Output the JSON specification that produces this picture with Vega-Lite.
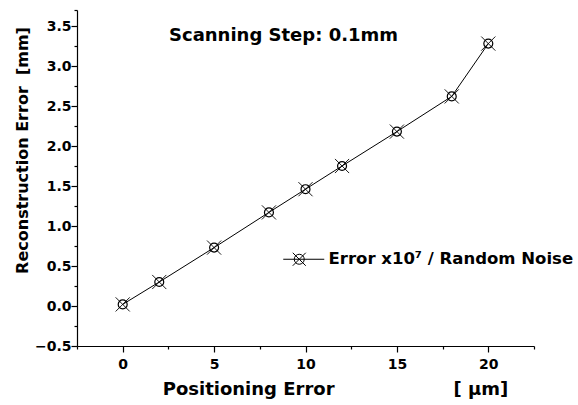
{
  "$schema": "https://vega.github.io/schema/vega-lite/v6.json",
  "autosize": "none",
  "width": 457,
  "height": 336,
  "padding": {"left": 77, "top": 10, "right": 44, "bottom": 59},
  "background": "white",
  "config": {
    "view": {"stroke": null},
    "font": "DejaVu Sans",
    "axis": {"grid": false, "domainColor": "black", "tickColor": "black", "labelColor": "black", "titleColor": "black", "labelFont": "DejaVu Sans", "titleFont": "DejaVu Sans", "labelFontWeight": "bold", "titleFontWeight": "bold", "labelFontSize": 14, "titleFontSize": 16, "domainWidth": 1.2, "tickWidth": 1.2}
  },
  "title": {"text": "Scanning Step: 0.1mm", "anchor": "start", "dx": 155, "offset": -45, "baseline": "middle", "font": "DejaVu Sans", "fontSize": 18, "fontWeight": "bold", "color": "black"},
  "data": {"values": [
    {"x": 0, "y": 0.02, "series": "Error x10⁷ / Random Noise"},
    {"x": 2, "y": 0.30, "series": "Error x10⁷ / Random Noise"},
    {"x": 5, "y": 0.73, "series": "Error x10⁷ / Random Noise"},
    {"x": 8, "y": 1.17, "series": "Error x10⁷ / Random Noise"},
    {"x": 10, "y": 1.46, "series": "Error x10⁷ / Random Noise"},
    {"x": 12, "y": 1.75, "series": "Error x10⁷ / Random Noise"},
    {"x": 15, "y": 2.18, "series": "Error x10⁷ / Random Noise"},
    {"x": 18, "y": 2.62, "series": "Error x10⁷ / Random Noise"},
    {"x": 20, "y": 3.28, "series": "Error x10⁷ / Random Noise"}
  ]},
  "encoding": {
    "x": {"field": "x", "type": "quantitative", "scale": {"domain": [-2.5, 22.5], "nice": false, "zero": false},
      "axis": {"values": [-2.5, 0, 2.5, 5, 7.5, 10, 12.5, 15, 17.5, 20, 22.5], "labelExpr": "datum.value % 5 === 0 ? datum.value : ''", "tickSize": {"condition": {"test": "datum.value % 5 === 0", "value": 6}, "value": 3}, "labelPadding": 5, "labelFlush": false,
        "title": "Positioning Error\u00a0\u00a0\u00a0\u00a0\u00a0\u00a0\u00a0\u00a0\u00a0\u00a0\u00a0\u00a0\u00a0\u00a0\u00a0\u00a0\u00a0\u00a0\u00a0[\u00a0µm]", "titleFontSize": 18, "titleX": 258, "titleY": 43, "titleAnchor": "middle", "titleBaseline": "middle"}},
    "y": {"field": "y", "type": "quantitative", "scale": {"domain": [-0.5, 3.7], "nice": false, "zero": false},
      "axis": {"values": [-0.5, -0.25, 0, 0.25, 0.5, 0.75, 1, 1.25, 1.5, 1.75, 2, 2.25, 2.5, 2.75, 3, 3.25, 3.5, 3.7], "labelExpr": "(datum.value * 2) % 1 === 0 ? format(datum.value, '.1f') : ''", "tickSize": {"condition": {"test": "(datum.value * 2) % 1 === 0", "value": 6}, "value": 3}, "labelPadding": 0, "labelFlush": false,
        "title": "Reconstruction Error\u00a0\u00a0[mm]", "titleX": -55, "titleY": 140, "titleAlign": "center", "titleBaseline": "middle", "titleAngle": 270}}
  },
  "layer": [
    {"mark": {"type": "line", "color": "#222", "strokeWidth": 1},
     "encoding": {"color": {"field": "series", "type": "nominal", "scale": {"range": ["black"]},
       "legend": {"title": null, "orient": "none", "legendX": 214, "legendY": 241, "symbolType": "M-3.2,0L5,0M1,0A1,1 0 1,1 -1,0A1,1 0 1,1 1,0M-1.3,-1.3L1.3,1.3M1.3,-1.3L-1.3,1.3", "symbolSize": 100, "symbolStrokeWidth": 1, "symbolFillColor": "transparent", "symbolStrokeColor": "black", "labelOffset": 21, "labelFont": "DejaVu Sans", "labelFontSize": 16.5, "labelFontWeight": "bold", "labelColor": "black", "padding": 0, "labelLimit": 400}}}},
    {"mark": {"type": "point", "shape": "circle", "size": 80, "filled": false, "stroke": "black", "strokeWidth": 1.2, "opacity": 1}},
    {"mark": {"type": "point", "shape": "M-1,-1L1,1M1,-1L-1,1", "size": 200, "filled": false, "stroke": "black", "strokeWidth": 0.9, "opacity": 1}}
  ]
}
